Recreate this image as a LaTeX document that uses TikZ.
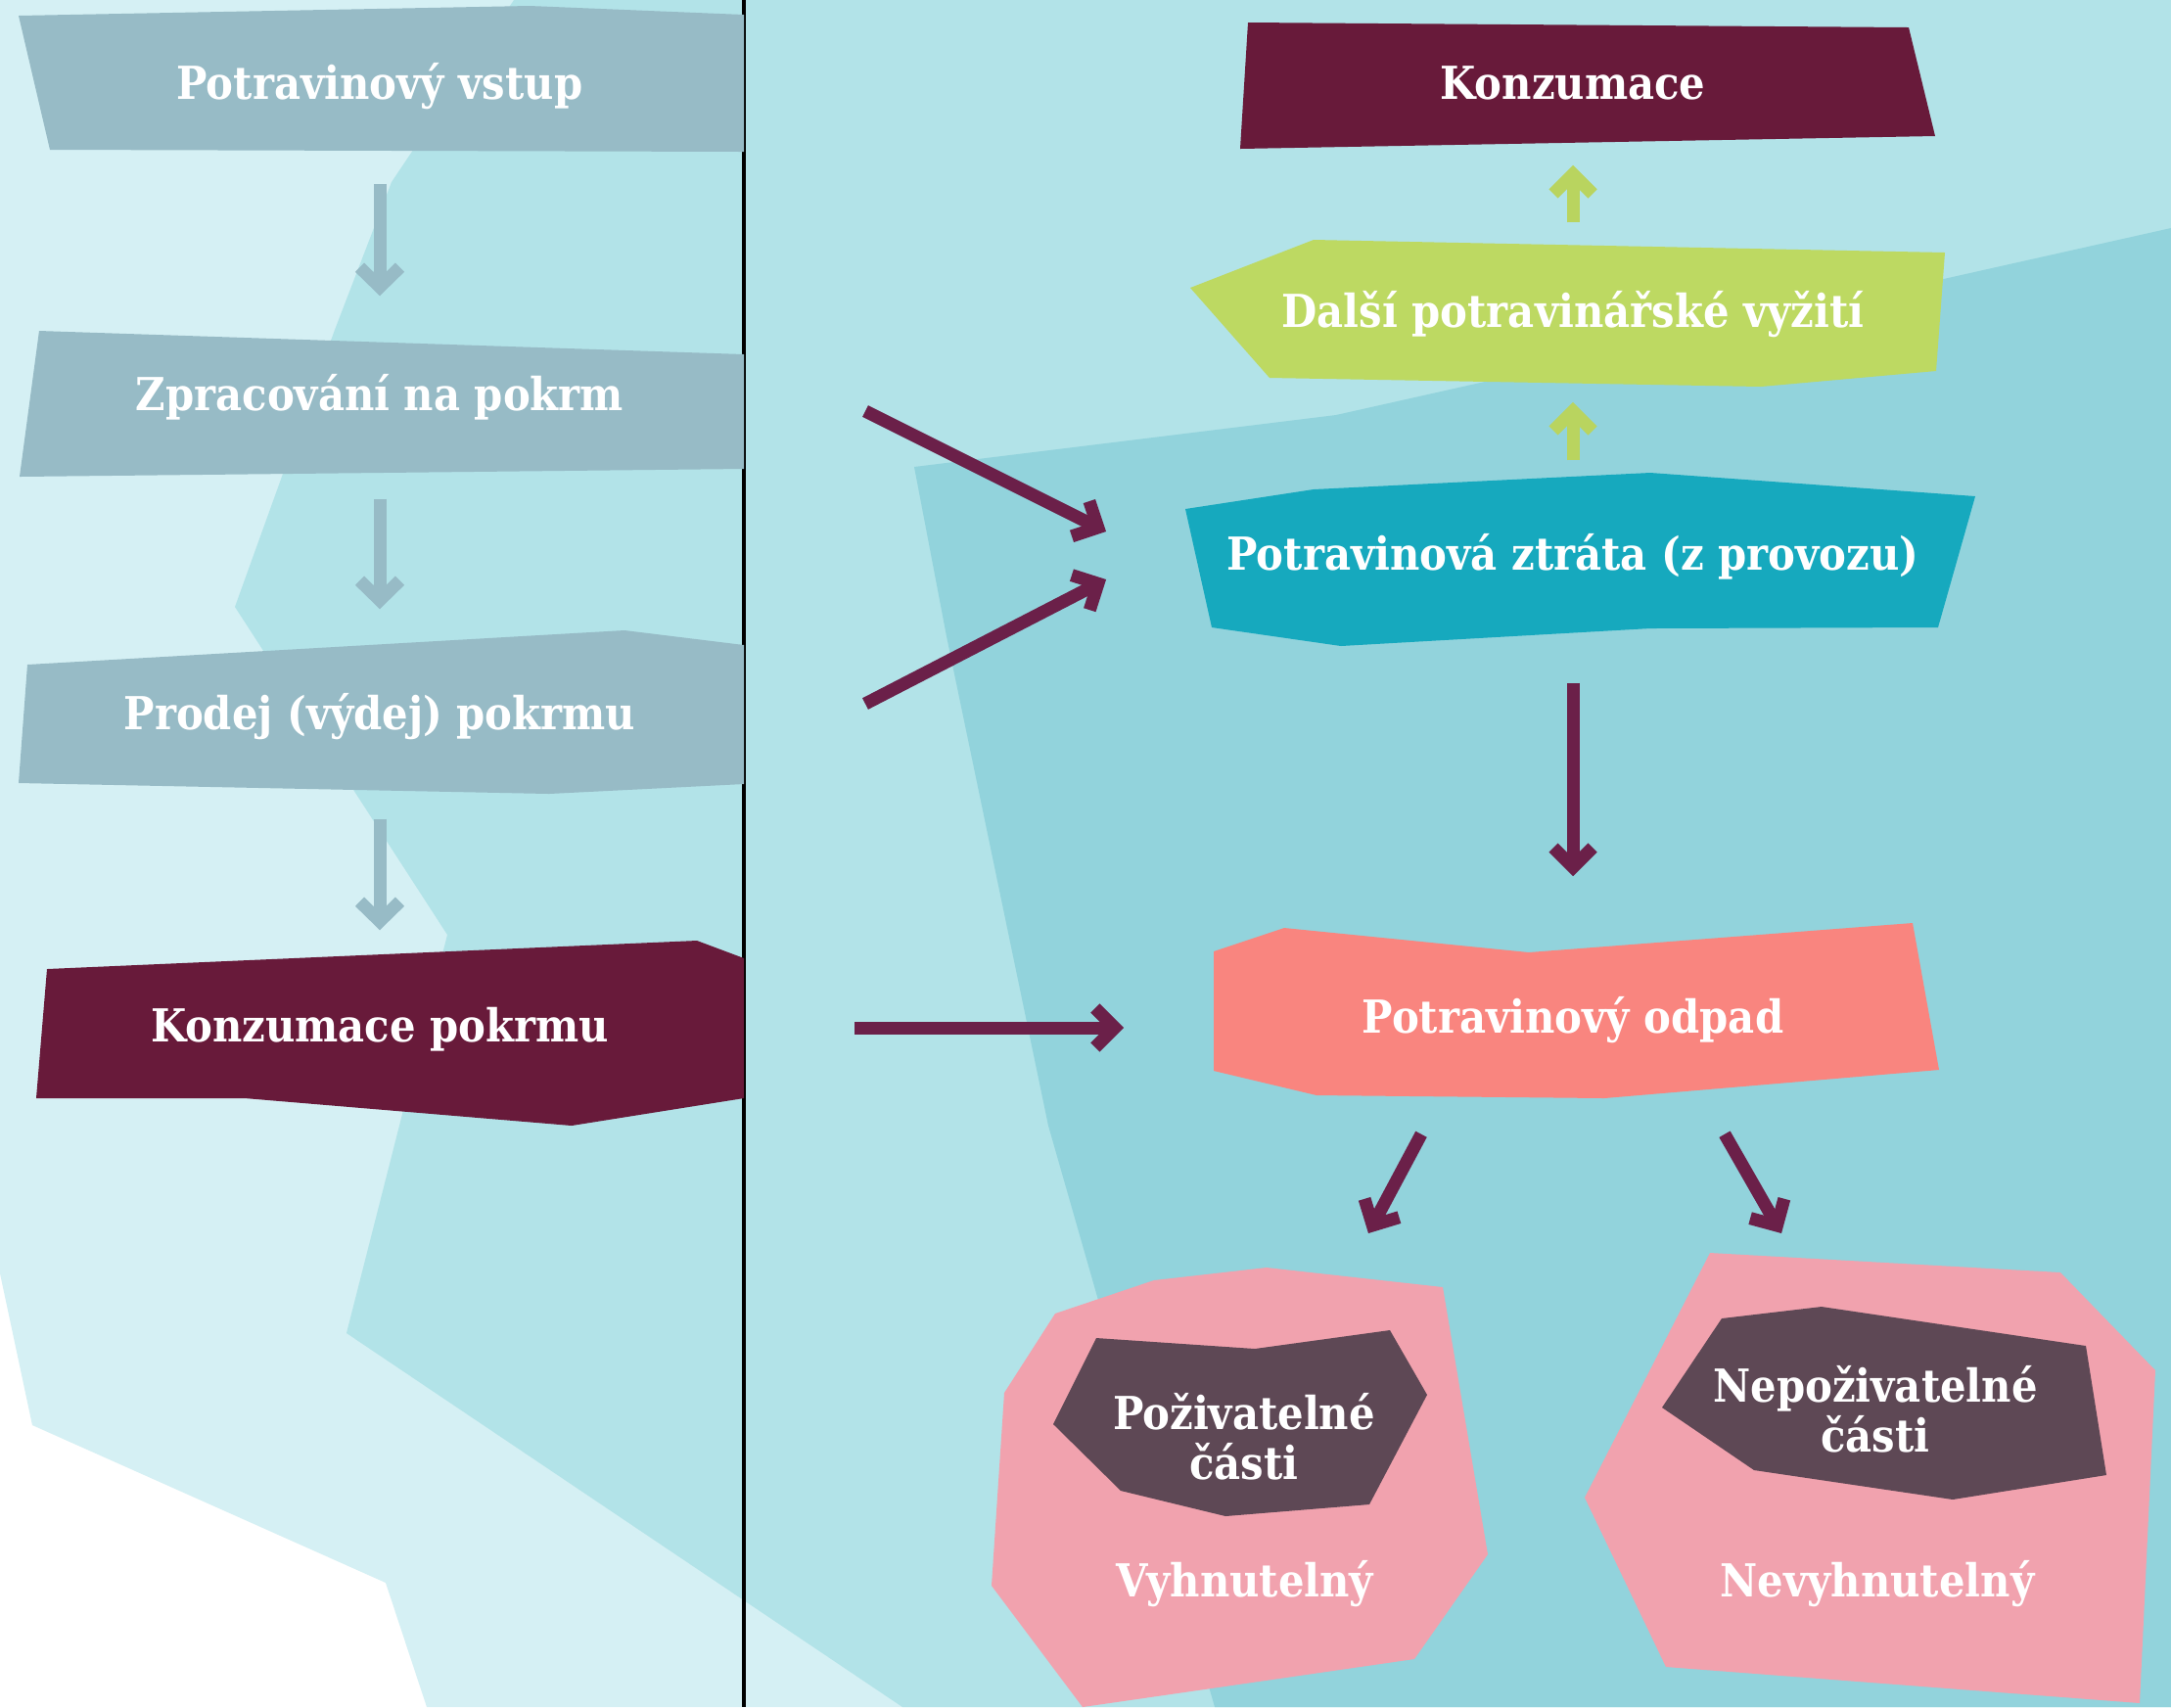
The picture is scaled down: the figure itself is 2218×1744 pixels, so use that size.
\documentclass[tikz,border=0pt]{standalone}
\usepackage{fontspec}
\setmainfont{DejaVu Serif Condensed}
\usetikzlibrary{arrows.meta,calc}
\definecolor{bglight}{HTML}{D5F0F4}
\definecolor{bgmid}{HTML}{B2E3E8}
\definecolor{bgdark}{HTML}{92D3DC}
\definecolor{greybox}{HTML}{97BBC6}
\definecolor{maroonbox}{HTML}{681A3A}
\definecolor{greenbox}{HTML}{BDD962}
\definecolor{tealbox}{HTML}{16A9BE}
\definecolor{salmonbox}{HTML}{F9857F}
\definecolor{pinkbox}{HTML}{F1A2AE}
\definecolor{darkbox}{HTML}{5E4855}
\definecolor{arrowmaroon}{HTML}{6B2049}
\definecolor{arrowgreen}{HTML}{B9D45F}
\tikzset{
  lbl/.style={text=white, font=\bfseries\fontsize{13.2}{14.5}\selectfont, align=center, inner sep=0pt},
  greyflow/.style={draw=greybox, line width=1.3mm, -{Straight Barb[length=2.0mm,width=4.1mm]}},
  maroonflow/.style={draw=arrowmaroon, line width=1.3mm, -{Straight Barb[length=2.0mm,width=4.0mm]}},
  greenflow/.style={draw=arrowgreen, line width=1.3mm, -{Straight Barb[length=2.0mm,width=4.0mm]}}
}
\begin{document}
\begin{tikzpicture}[x=0.01cm,y=-0.01cm]
\useasboundingbox (0,0) rectangle (2218,1744);
% background
\fill[white] (0,0) rectangle (2218,1744);
\fill[bglight] (0,0) -- (2218,0) -- (2218,1744) -- (436,1744) -- (394,1617) -- (33,1456) -- (0,1301) -- cycle;
\fill[bgmid] (525,0) -- (2218,0) -- (2218,1744) -- (922,1744) -- (354,1362) -- (408,1150) -- (457,955) -- (240,620) -- (342,337) -- (400,186) -- cycle;
\fill[bgdark] (934,477) -- (1365,424) -- (2218,233) -- (2218,1744) -- (1241,1744) -- (1071,1150) -- (967,650) -- cycle;
\draw[line width=0.35mm, black] (760,0) -- (760,1744);
% left column shapes
\fill[greybox] (19,16) -- (541,6) -- (760,15) -- (760,155) -- (51,153) -- cycle;
\fill[greybox] (40,338) -- (760,362) -- (760,479) -- (20,487) -- cycle;
\fill[greybox] (28,679) -- (638,644) -- (760,659) -- (760,801) -- (561,811) -- (19,800) -- cycle;
\fill[maroonbox] (48,990) -- (712,961) -- (760,979) -- (760,1122) -- (584,1150) -- (250,1122) -- (37,1122) -- cycle;
% right column shapes
\fill[maroonbox] (1275,23) -- (1950,28) -- (1977,139) -- (1267,152) -- cycle;
\fill[greenbox] (1342,245) -- (1987,258) -- (1978,379) -- (1799,395) -- (1297,386) -- (1216,294) -- cycle;
\fill[tealbox] (1211,520) -- (1342,500) -- (1686,483) -- (2018,507) -- (1980,641) -- (1686,642) -- (1370,660) -- (1238,641) -- cycle;
\fill[salmonbox] (1240,972) -- (1312,948) -- (1562,973) -- (1954,943) -- (1981,1093) -- (1639,1122) -- (1345,1119) -- (1240,1094) -- cycle;
\fill[pinkbox] (1078,1342) -- (1179,1308) -- (1294,1295) -- (1474,1315) -- (1520,1588) -- (1445,1695) -- (1106,1744) -- (1013,1620) -- (1026,1423) -- cycle;
\fill[darkbox] (1120,1367) -- (1282,1378) -- (1420,1359) -- (1458,1425) -- (1399,1537) -- (1252,1549) -- (1145,1523) -- (1076,1455) -- cycle;
\fill[pinkbox] (1747,1280) -- (2105,1300) -- (2202,1400) -- (2186,1740) -- (1702,1703) -- (1619,1530) -- cycle;
\fill[darkbox] (1759,1347) -- (1861,1335) -- (2131,1375) -- (2152,1507) -- (1995,1532) -- (1792,1502) -- (1698,1438) -- cycle;
% nodes
\node[lbl, minimum height=1.3cm] (vstup) at (388,88) {Potravinový vstup};
\node[lbl, minimum height=1.3cm] (zprac) at (388,406) {Zpracování na pokrm};
\node[lbl, minimum height=1.3cm] (prodej) at (388,732) {Prodej (výdej) pokrmu};
\node[lbl, minimum height=1.3cm] (konzp) at (388,1052) {Konzumace pokrmu};
\node[lbl, minimum height=1.2cm] (konz) at (1607,85) {Konzumace};
\node[lbl, minimum height=1.2cm] (dalsi) at (1607,321) {Další potravinářské vyžití};
\node[lbl, minimum height=1.2cm, minimum width=8cm] (ztrata) at (1607,569) {Potravinová ztráta (z provozu)};
\node[lbl, minimum height=1.2cm, minimum width=7.4cm] (odpad) at (1607,1042) {Potravinový odpad};
\node[lbl] (pozi) at (1271,1468) {Poživatelné\\části};
\node[lbl] (nepozi) at (1916,1440) {Nepoživatelné\\části};
\node[lbl] (vyh) at (1272,1618) {Vyhnutelný};
\node[lbl] (nevyh) at (1918,1618) {Nevyhnutelný};
% free ends
\coordinate (srcA) at (884,420);
\coordinate (srcB) at (884,719);
\coordinate (srcD) at (873,1050);
% connectors left
\draw[greyflow, shorten <=0.34cm, shorten >=0.38cm] (vstup) -- (zprac);
\draw[greyflow, shorten <=0.38cm, shorten >=0.44cm] (zprac) -- (prodej);
\draw[greyflow, shorten <=0.39cm, shorten >=0.36cm] (prodej) -- (konzp);
% connectors right
\draw[greenflow, shorten <=0.33cm, shorten >=0.23cm] (dalsi) -- (konz);
\draw[greenflow, shorten <=0.38cm, shorten >=0.29cm] (ztrata) -- (dalsi);
\draw[maroonflow, shorten <=0.68cm, shorten >=0.86cm] (ztrata) -- (odpad);
\draw[maroonflow] (srcA) -- ($(ztrata.west)+(-76,-26)$);
\draw[maroonflow] (srcB) -- ($(ztrata.west)+(-76,23)$);
\draw[maroonflow, shorten >=0.88cm] (srcD) -- (srcD -| odpad.west);
\draw[maroonflow] ($(odpad.south)+(-155,56)$) -- ($(pozi)+(127,-208)$);
\draw[maroonflow] ($(odpad.south)+(155,56)$) -- ($(nepozi)+(-96,-180)$);
\end{tikzpicture}
\end{document}
